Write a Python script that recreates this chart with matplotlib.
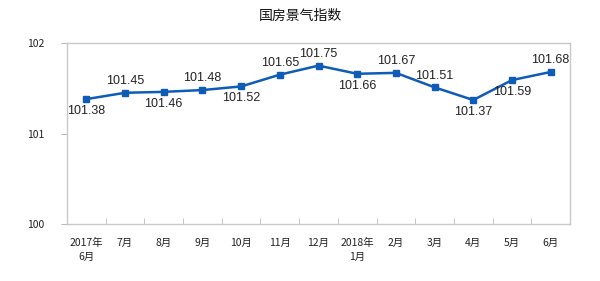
import matplotlib
matplotlib.use("Agg")
import matplotlib.pyplot as plt

plt.rcParams['font.family'] = ['Noto Sans CJK SC', 'DejaVu Sans']

categories = ["2017年\n6月", "7月", "8月", "9月", "10月", "11月", "12月",
              "2018年\n1月", "2月", "3月", "4月", "5月", "6月"]
values = [101.38, 101.45, 101.46, 101.48, 101.52, 101.65, 101.75,
          101.66, 101.67, 101.51, 101.37, 101.59, 101.68]
label_pos = ["below", "above", "below", "above", "below", "above", "above",
             "below", "above", "above", "below", "below", "above"]
y_ticks = [100, 101, 102]

fig = plt.figure(figsize=(6.0, 2.81), dpi=100)
ax = fig.add_axes([67/600, 1 - 224/281, (570-67)/600, (224-43)/281])

x = list(range(len(values)))
color = "#0E5CB8"
ax.plot(x, values, color=color, lw=1.8, marker="s", ms=4.5, zorder=3)

for xi, v, p in zip(x, values, label_pos):
    off = 8.5 if p == "above" else -8.5
    ax.annotate(f"{v:.2f}", (xi, v), xytext=(0, off), textcoords="offset points",
                ha="center", va="center", fontsize=9, color="#222222",
                family=["Liberation Sans", "DejaVu Sans"])

ax.set_xlim(-0.5, len(values) - 0.5)
ax.set_ylim(100, 102)
ax.set_yticks(y_ticks)
ax.set_yticklabels([str(t) for t in y_ticks], fontsize=7.5, color="#222222")
ax.set_xticks(x)
ax.set_xticklabels(categories, fontsize=7.5, color="#222222", linespacing=1.5, va="top")
ax.tick_params(axis="x", length=0, pad=10)
ax.tick_params(axis="y", length=4, color="#bbbbbb", pad=12)
# category boundary ticks
ax.set_xticks([i + 0.5 for i in range(len(values) - 1)], minor=True)
ax.tick_params(axis="x", which="minor", direction="in", length=4, color="#bbbbbb")
for s in ax.spines.values():
    s.set_color("#c8c8c8")
    s.set_linewidth(1.0)

fig.text(0.5, 1 - 16/281, "国房景气指数", ha="center", va="center", fontsize=10, color="#111111")

fig.savefig("out.png", dpi=100)
